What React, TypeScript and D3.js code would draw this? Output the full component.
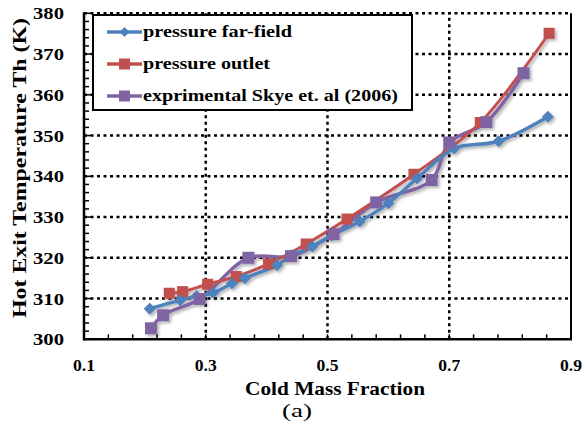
import React from "react";
import * as d3 from "d3";

const farFieldX = [0.208, 0.258, 0.285, 0.312, 0.343, 0.364, 0.417, 0.441, 0.475, 0.507, 0.553, 0.6, 0.647, 0.708, 0.781, 0.862];
const farFieldY = [307.5, 309.6, 310.6, 311.4, 313.7, 315.0, 318.2, 320.6, 322.8, 325.5, 328.9, 333.4, 339.5, 346.8, 348.6, 354.6];

const outletX = [0.24, 0.262, 0.303, 0.35, 0.403, 0.465, 0.532, 0.642, 0.751, 0.864];
const outletY = [311.3, 311.7, 313.5, 315.4, 318.5, 323.4, 329.5, 340.5, 353.2, 375.1];

const expX = [0.21, 0.23, 0.29, 0.37, 0.44, 0.51, 0.58, 0.671, 0.7, 0.761, 0.822];
const expY = [302.7, 305.9, 309.9, 320.0, 320.4, 325.8, 333.6, 339.1, 348.3, 353.3, 365.3];

const xTicks = [0.1, 0.3, 0.5, 0.7, 0.9];
const yTicks = [300, 310, 320, 330, 340, 350, 360, 370, 380];
const seriesNames = ["pressure far-field", "pressure outlet", "exprimental Skye et. al (2006)"];

const BLUE = "#4F81BD";
const RED = "#C0504D";
const PURPLE = "#8064A2";
const FONT = "Liberation Serif";

export default function App() {
  const x = d3.scaleLinear().domain([0.1, 0.9]).range([84, 571]);
  const y = d3.scaleLinear().domain([300, 380]).range([339.3, 13.3]);
  const line = d3
    .line<[number, number]>()
    .x((d) => x(d[0]))
    .y((d) => y(d[1]))
    .curve(d3.curveCatmullRom.alpha(0.5));

  const ff: [number, number][] = farFieldX.map((v, i) => [v, farFieldY[i]]);
  const po: [number, number][] = outletX.map((v, i) => [v, outletY[i]]);
  const ex: [number, number][] = expX.map((v, i) => [v, expY[i]]);

  const xMinor = d3.range(0, 21).map((i) => 0.1 + i * 0.04);
  const yMinor = d3.range(0, 41).map((i) => 300 + i * 2);
  const legendW = [149, 127, 255];

  const diamond = (cx: number, cy: number, s: number) =>
    `M${cx},${cy - s} L${cx + s},${cy} L${cx},${cy + s} L${cx - s},${cy} Z`;

  const tf = { fontFamily: FONT };

  return (
    <svg width={585} height={429} style={{ position: "absolute", left: 0, top: 0, background: "#fff" }}>
      <defs>
        <filter id="sh" x="-20%" y="-20%" width="140%" height="140%">
          <feDropShadow dx="2" dy="2" stdDeviation="1.5" floodColor="#000" floodOpacity="0.3" />
        </filter>
      </defs>
      <rect x={0} y={0} width={585} height={429} fill="#fff" />
      {/* grid */}
      {yTicks.slice(1, -1).map((t) => (
        <line key={"gy" + t} x1={x(0.1)} x2={x(0.9)} y1={y(t)} y2={y(t)} stroke="#000" strokeWidth={2.5} strokeDasharray="3,3.5" />
      ))}
      <line x1={x(0.1)} x2={x(0.9)} y1={y(380)} y2={y(380)} stroke="#000" strokeWidth={2.5} strokeDasharray="3,3.5" />
      {xTicks.slice(1, -1).map((t) => (
        <line key={"gx" + t} x1={x(t)} x2={x(t)} y1={y(300)} y2={y(380)} stroke="#000" strokeWidth={2.5} strokeDasharray="3,3.5" />
      ))}
      {/* axes */}
      <line x1={x(0.9)} x2={x(0.9)} y1={y(300)} y2={y(380)} stroke="#000" strokeWidth={2} />
      <line x1={x(0.1)} x2={x(0.1)} y1={y(300) + 1} y2={y(380) - 1} stroke="#000" strokeWidth={2.5} />
      <line x1={x(0.1) - 1} x2={x(0.9) + 1} y1={y(300)} y2={y(300)} stroke="#000" strokeWidth={2.5} />
      {yMinor.map((t) => (
        <line key={"my" + t} x1={x(0.1)} x2={x(0.1) + (t % 10 === 0 ? 7 : 5)} y1={y(t)} y2={y(t)} stroke="#000" strokeWidth={1.5} />
      ))}
      {xMinor.map((t, i) => (
        <line key={"mx" + i} x1={x(t)} x2={x(t)} y1={y(300)} y2={y(300) - 5} stroke="#000" strokeWidth={1.5} />
      ))}
      {/* tick labels */}
      {yTicks.map((t) => (
        <text key={"ty" + t} x={64} y={y(t) + 6} textAnchor="end" style={tf} fontWeight="bold" fontSize={17} textLength={31} lengthAdjust="spacingAndGlyphs">
          {t}
        </text>
      ))}
      {xTicks.map((t) => (
        <text key={"tx" + t} x={x(t)} y={371} textAnchor="middle" style={tf} fontWeight="bold" fontSize={16} textLength={22} lengthAdjust="spacingAndGlyphs">
          {t}
        </text>
      ))}
      <text x={335} y={395} textAnchor="middle" style={tf} fontWeight="bold" fontSize={19} textLength={180} lengthAdjust="spacingAndGlyphs">
        Cold Mass Fraction
      </text>
      <text x={297} y={417} textAnchor="middle" style={tf} fontSize={19} textLength={30} lengthAdjust="spacingAndGlyphs">
        (a)
      </text>
      <text transform={`translate(26,168) rotate(-90)`} textAnchor="middle" style={tf} fontWeight="bold" fontSize={19} textLength={300} lengthAdjust="spacingAndGlyphs">
        Hot Exit Temperature Th (K)
      </text>
      {/* series */}
      <g filter="url(#sh)">
        <path d={line(ex) || ""} fill="none" stroke={PURPLE} strokeWidth={3.5} />
        <path d={line(po) || ""} fill="none" stroke={RED} strokeWidth={3} />
        <path d={line(ff) || ""} fill="none" stroke={BLUE} strokeWidth={3.5} />
        {po.map((d, i) => (
          <rect key={"po" + i} x={x(d[0]) - 5.5} y={y(d[1]) - 5.5} width={11} height={11} fill={RED} />
        ))}
        {ff.map((d, i) => (
          <path key={"ff" + i} d={diamond(x(d[0]), y(d[1]), 6)} fill={BLUE} />
        ))}
        {ex.map((d, i) => (
          <rect key={"ex" + i} x={x(d[0]) - 6} y={y(d[1]) - 6} width={12} height={12} fill={PURPLE} />
        ))}
      </g>
      {/* legend */}
      <rect x={93} y={15} width={319} height={95} fill="#fff" stroke="#000" strokeWidth={2} />
      {[BLUE, RED, PURPLE].map((c, i) => {
        const ly = 32 + i * 32;
        return (
          <g key={"lg" + i}>
            <line x1={107} x2={142} y1={ly} y2={ly} stroke={c} strokeWidth={3.5} />
            {i === 0 ? (
              <path d={diamond(124.5, ly, 5)} fill={c} />
            ) : (
              <rect x={119} y={ly - 5.5} width={11} height={11} fill={c} />
            )}
            <text x={143} y={ly + 5} style={tf} fontWeight="bold" fontSize={17} textLength={legendW[i]} lengthAdjust="spacingAndGlyphs">
              {seriesNames[i]}
            </text>
          </g>
        );
      })}
    </svg>
  );
}
